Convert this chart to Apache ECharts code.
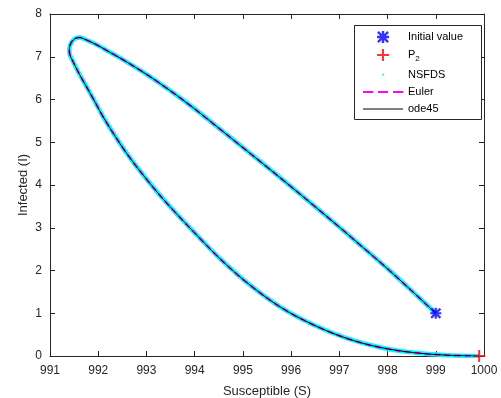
<!DOCTYPE html>
<html>
<head>
<meta charset="utf-8">
<script src="https://cdn.jsdelivr.net/npm/echarts@6/dist/echarts.min.js"></script>
<style>
html,body{margin:0;padding:0;background:#fff;}
#chart{width:501px;height:398px;}
</style>
</head>
<body>
<div id="chart"></div>
<script>
// Trajectory (S, I): starts at the initial value, loops, ends at P2
const susceptible = [999.0, 998.5, 998.0, 997.5, 997.0, 996.5, 996.0, 995.5, 995.0, 994.5, 994.0, 993.5, 993.0, 992.5, 992.2, 992.0, 991.8, 991.7, 991.62, 991.55, 991.48, 991.43, 991.40, 991.41, 991.45, 991.52, 991.61, 991.72, 991.90, 992.14, 992.59, 993.07, 993.49, 994.11, 994.53, 995.08, 995.77, 996.46, 997.16, 997.85, 998.54, 999.23, 999.9];
const infected    = [1.00, 1.525, 2.04, 2.53, 3.015, 3.49, 3.96, 4.42, 4.875, 5.33, 5.78, 6.20, 6.59, 6.94, 7.13, 7.26, 7.37, 7.42, 7.45, 7.44, 7.39, 7.31, 7.18, 7.05, 6.95, 6.79, 6.59, 6.37, 6.01, 5.52, 4.74, 4.04, 3.49, 2.75, 2.27, 1.72, 1.15, 0.73, 0.41, 0.20, 0.08, 0.02, 0.00];
const initialValue = [999, 1];
const pointP2 = [999.9, 0];
const xTicks = [991, 1000, 1];
const yTicks = [0, 8, 1];
const seriesNames = ['Initial value', 'P2', 'NSFDS', 'Euler', 'ode45'];

const curve = susceptible.map((s, k) => [s, infected[k]]);

const FONT = '"Liberation Sans", Arial, Helvetica, sans-serif';
const AX = '#262626';

const starPath = 'path://M-1,-5h2v10h-2z M-5,-1h10v2h-10z M-3.5,-4.9L4.9,3.5L3.5,4.9L-4.9,-3.5Z M3.5,-4.9L4.9,-3.5L-3.5,4.9L-4.9,3.5Z';
const plusPath = 'path://M-1,-6h2v12h-2z M-6,-1h12v2h-12z';
const dotIcon = 'path://M0,0L0.01,0L0.01,0.01Z M14,14L13.99,14L13.99,13.99Z M6,6h2.2v2.2h-2.2z';
const dashIcon = 'path://M0,0h10v2h-10z M15,0h10v2h-10z M30,0h10v2h-10z';
const lineIcon = 'path://M0,0h40v1.2h-40z';

const chart = echarts.init(document.getElementById('chart'), null, {renderer: 'canvas'});

const baseX = {
  type: 'value', min: xTicks[0], max: xTicks[1], interval: xTicks[2],
  axisLine: {show: true, onZero: false, lineStyle: {color: AX, width: 1}},
  axisTick: {show: true, inside: true, length: 5, lineStyle: {color: AX}},
  splitLine: {show: false}
};
const baseY = {
  type: 'value', min: yTicks[0], max: yTicks[1], interval: yTicks[2],
  axisLine: {show: true, onZero: false, lineStyle: {color: AX, width: 1}},
  axisTick: {show: true, inside: true, length: 5, lineStyle: {color: AX}},
  splitLine: {show: false}
};

chart.setOption({
  backgroundColor: '#fff',
  animation: false,
  textStyle: {fontFamily: FONT},
  grid: {left: 50, right: 17, top: 14, bottom: 42, containLabel: false, outerBoundsMode: 'none'},
  xAxis: [
    Object.assign({}, baseX, {
      position: 'bottom',
      name: 'Susceptible (S)', nameLocation: 'middle', nameGap: 29, nameMoveOverlap: false,
      nameTextStyle: {color: AX, fontSize: 13, fontFamily: FONT},
      axisLabel: {color: AX, fontSize: 12, margin: 9, fontFamily: FONT,
        formatter: function (v) { return String(v); }}
    }),
    Object.assign({}, baseX, {position: 'top', axisLabel: {show: false}})
  ],
  yAxis: [
    Object.assign({}, baseY, {
      position: 'left',
      name: 'Infected (I)', nameLocation: 'middle', nameGap: 20, nameRotate: 90, nameMoveOverlap: false,
      nameTextStyle: {color: AX, fontSize: 13, fontFamily: FONT},
      axisLabel: {color: AX, fontSize: 12, margin: 8, fontFamily: FONT}
    }),
    Object.assign({}, baseY, {position: 'right', axisLabel: {show: false}})
  ],
  legend: {
    orient: 'vertical',
    left: 363, top: 31,
    padding: 0,
    itemWidth: 40, itemHeight: 12, itemGap: 6,
    selectedMode: false,
    itemStyle: {borderWidth: 0},
    textStyle: {color: '#000', fontSize: 11, fontFamily: FONT,
      rich: {s: {fontSize: 8, fontFamily: FONT, color: '#000', padding: [7, 0, 0, 0]}}},
    formatter: function (n) { return n === 'P2' ? 'P{s|2}' : n; },
    z: 20,
    data: [
      {name: seriesNames[0], icon: starPath},
      {name: seriesNames[1], icon: plusPath},
      {name: seriesNames[2], icon: dotIcon},
      {name: seriesNames[3], icon: dashIcon},
      {name: seriesNames[4], icon: lineIcon}
    ]
  },
  graphic: [{
    type: 'rect', z: 10,
    shape: {x: 354.5, y: 25.5, width: 127, height: 94},
    style: {fill: '#fff', stroke: AX, lineWidth: 1}
  }],
  series: [
    {
      name: seriesNames[2], type: 'line', data: curve, showSymbol: false, symbol: 'none',
      color: '#00FFFF', lineStyle: {color: '#00FFFF', width: 4.5}, z: 2, smooth: 0.35
    },
    {
      name: seriesNames[3], type: 'line', data: curve, showSymbol: false, symbol: 'none',
      color: '#FF00FF', lineStyle: {color: '#FF00FF', width: 2, type: [6, 4]}, z: 3, smooth: 0.35
    },
    {
      name: seriesNames[4], type: 'line', data: curve, showSymbol: false, symbol: 'none',
      color: '#000000', lineStyle: {color: '#000000', width: 1}, z: 4, smooth: 0.35
    },
    {
      name: seriesNames[0], type: 'scatter', data: [initialValue], symbol: starPath,
      symbolSize: 11, itemStyle: {color: '#0000FF'}, z: 5, clip: false
    },
    {
      name: seriesNames[1], type: 'scatter', data: [pointP2], symbol: plusPath,
      symbolSize: 12, itemStyle: {color: '#FF0000'}, z: 5, clip: false
    }
  ]
});
</script>
</body>
</html>
